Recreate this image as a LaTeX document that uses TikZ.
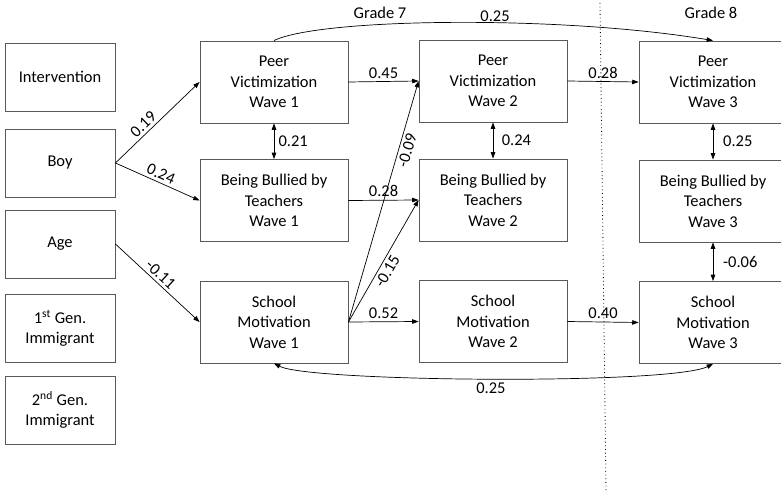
\documentclass[tikz,border=0pt]{standalone}
\usepackage{fontspec}
\setmainfont{Carlito}
\usetikzlibrary{arrows.meta}
\begin{document}
\begin{tikzpicture}[x=0.025cm,y=-0.025cm,
    box/.style={draw=black!65, line width=0.6pt, minimum width=3.7cm, minimum height=2.05cm,
      align=center, inner sep=0pt, font=\fontsize{11.7}{14.5}\selectfont},
    covbox/.style={box, minimum width=2.75cm, minimum height=1.7cm},
    arr/.style={-{Triangle[length=4.5pt,width=3.2pt]}, line width=0.5pt},
    dbl/.style={{Triangle[length=4.5pt,width=3.2pt]}-{Triangle[length=4.5pt,width=3.2pt]}, line width=0.5pt},
    coef/.style={font=\fontsize{11.7}{14}\selectfont, inner sep=2pt}]
    \useasboundingbox (0,0) rectangle (781,491);
    \draw[dotted, line width=0.6pt] (600,3) -- (606,491);
    \node[coef] (g7) at (380,13) {Grade 7};
    \node[coef] (g8) at (711,13) {Grade 8};
    \node[covbox] (interv) at (60,77) {Intervention};
    \node[covbox] (boy) at (60,163) {Boy};
    \node[covbox] (age) at (60,244) {Age};
    \node[covbox] (gen1) at (60,328.5) {1\textsuperscript{st} Gen.\\Immigrant};
    \node[covbox] (gen2) at (60,410) {2\textsuperscript{nd} Gen.\\Immigrant};
    \node[box] (pv1) at (274,82) {Peer\\Victimization\\Wave 1};
    \node[box] (bbt1) at (274,200.5) {Being Bullied by\\Teachers\\Wave 1};
    \node[box] (sm1) at (274,322) {School\\Motivation\\Wave 1};
    \node[box] (pv2) at (493,81) {Peer\\Victimization\\Wave 2};
    \node[box] (bbt2) at (493,200) {Being Bullied by\\Teachers\\Wave 2};
    \node[box] (sm2) at (493,321.5) {School\\Motivation\\Wave 2};
    \node[box] (pv3) at (713,82) {Peer\\Victimization\\Wave 3};
    \node[box] (bbt3) at (713,201) {Being Bullied by\\Teachers\\Wave 3};
    \node[box] (sm3) at (713,322.5) {School\\Motivation\\Wave 3};
    \draw[arr] (boy.east) -- (pv1.west) node[coef, pos=0.4, sloped, above] {0.19};
    \draw[arr] (boy.east) -- (bbt1.west) node[coef, pos=0.5, sloped, above] {0.24};
    \draw[arr] (age.east) -- (sm1.west) node[coef, pos=0.47, sloped, above] {-0.11};
    \draw[dbl] (pv1) -- (bbt1) node[coef, midway, right, inner sep=3pt] {0.21};
    \draw[arr] (pv1.east) -- (pv2.west) node[coef, midway, above] {0.45};
    \draw[arr] (bbt1.east) -- (bbt2.west) node[coef, midway, above] {0.28};
    \draw[arr] (sm1.east) -- (pv2.west) node[coef, pos=0.72, sloped, below] {-0.09};
    \draw[arr] (sm1.east) -- (bbt2.west) node[coef, pos=0.45, sloped, below] {-0.15};
    \draw[arr] (sm1.east) -- (sm2.west) node[coef, midway, above] {0.52};
    \draw[dbl] (pv2) -- (bbt2) node[coef, midway, right, inner sep=6pt] {0.24};
    \draw[arr] (pv2.east) -- (pv3.west) node[coef, midway, above] {0.28};
    \draw[arr] (sm2.east) -- (sm3.west) node[coef, midway, above] {0.40};
    \draw[dbl] (pv3) -- (bbt3) node[coef, midway, right, inner sep=7pt] {0.25};
    \draw[dbl] (bbt3) -- (sm3) node[coef, midway, right, inner sep=7pt] {-0.06};
    \draw[arr] (pv1.north) .. controls (320,18) and (560,15) .. (pv3.north)
      node[coef, pos=0.58, above, inner sep=0.5pt] {0.25};
    \draw[dbl] (sm1.south) .. controls (310,382) and (670,385) .. (sm3.south)
      node[coef, pos=0.5, below, inner sep=3pt] {0.25};
\end{tikzpicture}
\end{document}
